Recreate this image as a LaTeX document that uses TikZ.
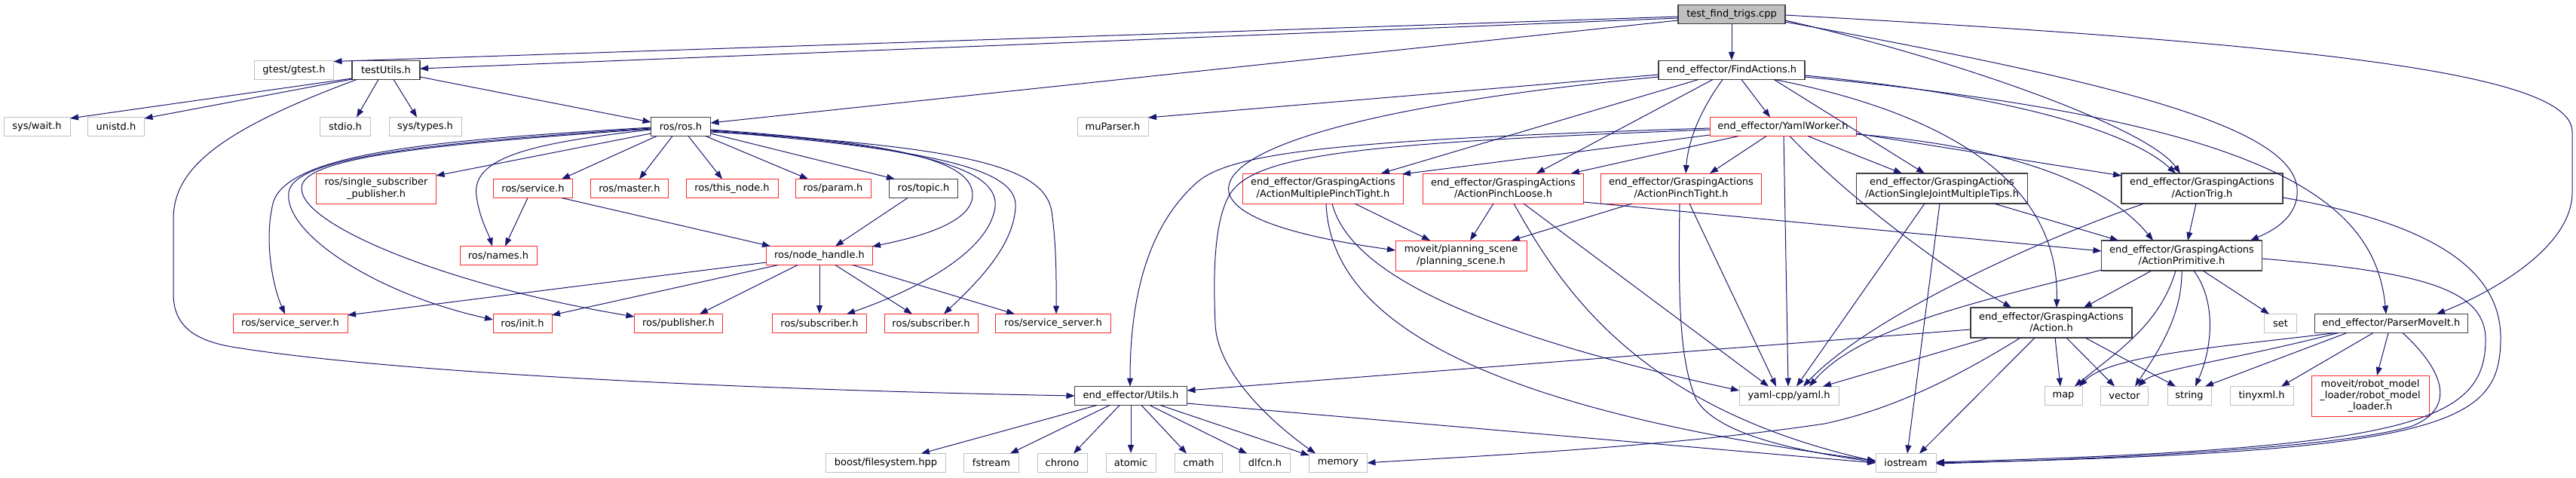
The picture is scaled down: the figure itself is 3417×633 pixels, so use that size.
\documentclass[tikz,border=0pt]{standalone}
\usepackage{fontspec}
\setmainfont{DejaVu Sans}
\usetikzlibrary{arrows.meta,calc}
\definecolor{edgec}{RGB}{25,25,112}
\definecolor{grayb}{RGB}{191,191,191}
\definecolor{blkb}{RGB}{64,64,64}
\definecolor{redb}{RGB}{255,40,40}
\newcommand\nfont{\fontsize{13}{15.3}\selectfont}
\tikzset{
  nb/.style={rectangle, align=center, inner sep=0pt, font=\nfont, text=black, minimum height=25pt},
  blk/.style={nb, draw=blkb, line width=1.3pt},
  rdn/.style={nb, draw=redb, line width=1pt},
  gry/.style={nb, draw=grayb, line width=1pt},
  rootn/.style={blk, fill=grayb},
  two/.style={minimum height=40pt},
  dep/.style={draw=edgec, line width=1pt, -{Triangle[length=11pt,width=8pt]}},
}
\begin{document}
\begin{tikzpicture}[x=1pt,y=-1pt]
\useasboundingbox (0,0) rectangle (3417,633);
\fill[white] (0,0) rectangle (3417,633);
% row 1
\node[rootn, minimum width=142pt] (T) at (2297,19) {test\_find\_trigs.cpp};
% row 2
\node[gry, minimum width=105pt] (gtest) at (390,93) {gtest/gtest.h};
\node[blk, minimum width=90pt] (TU) at (512,93) {testUtils.h};
\node[blk, minimum width=194pt] (F) at (2297,93) {end\_effector/FindActions.h};
% row 3
\node[gry, minimum width=88pt] (wait) at (49,168) {sys/wait.h};
\node[gry, minimum width=75pt] (unistd) at (154,168) {unistd.h};
\node[gry, minimum width=67pt] (stdio) at (458,168) {stdio.h};
\node[gry, minimum width=96pt] (systypes) at (564,168) {sys/types.h};
\node[blk, minimum width=79pt] (R) at (903,168) {ros/ros.h};
\node[gry, minimum width=94pt] (muParser) at (1476,168) {muParser.h};
\node[rdn, minimum width=194pt] (YW) at (2365,168) {end\_effector/YamlWorker.h};
% row 4
\node[rdn, two, minimum width=159pt] (SSP) at (499,250) {ros/single\_subscriber\\\_publisher.h};
\node[rdn, minimum width=105pt] (service) at (707,250) {ros/service.h};
\node[rdn, minimum width=103pt] (master) at (835,250) {ros/master.h};
\node[rdn, minimum width=122pt] (thisnode) at (971,250) {ros/this\_node.h};
\node[rdn, minimum width=100pt] (param) at (1105,250) {ros/param.h};
\node[blk, minimum width=91pt] (topic) at (1225,250) {ros/topic.h};
\node[rdn, two, minimum width=213pt] (MPT) at (1755,250) {end\_effector/GraspingActions\\/ActionMultiplePinchTight.h};
\node[rdn, two, minimum width=213pt] (PL) at (1994,250) {end\_effector/GraspingActions\\/ActionPinchLoose.h};
\node[rdn, two, minimum width=213pt] (PT) at (2230,250) {end\_effector/GraspingActions\\/ActionPinchTight.h};
\node[blk, two, minimum width=227pt] (SJ) at (2576,250) {end\_effector/GraspingActions\\/ActionSingleJointMultipleTips.h};
\node[blk, two, minimum width=214pt] (AT) at (2921,250) {end\_effector/GraspingActions\\/ActionTrig.h};
% row 5
\node[rdn, minimum width=102pt] (names) at (661,339) {ros/names.h};
\node[rdn, minimum width=141pt] (NH) at (1087,339) {ros/node\_handle.h};
\node[rdn, two, minimum width=174pt] (PS) at (1938,339) {moveit/planning\_scene\\/planning\_scene.h};
\node[blk, two, minimum width=213pt] (AP) at (2894,339) {end\_effector/GraspingActions\\/ActionPrimitive.h};
% row 6
\node[rdn, minimum width=152pt] (SS1) at (385,429) {ros/service\_server.h};
\node[rdn, minimum width=78pt] (init) at (693,429) {ros/init.h};
\node[rdn, minimum width=117pt] (pub) at (900,429) {ros/publisher.h};
\node[rdn, minimum width=125pt] (sub1) at (1087,429) {ros/subscriber.h};
\node[rdn, minimum width=124pt] (sub2) at (1235,429) {ros/subscriber.h};
\node[rdn, minimum width=153pt] (SS2) at (1397,429) {ros/service\_server.h};
\node[blk, two, minimum width=214pt] (AH) at (2721,428) {end\_effector/GraspingActions\\/Action.h};
\node[gry, minimum width=43pt] (set) at (3025,429) {set};
\node[blk, minimum width=203pt] (PM) at (3172,429) {end\_effector/ParserMoveIt.h};
% row 7
\node[blk, minimum width=149pt] (Utils) at (1500,525) {end\_effector/Utils.h};
\node[gry, minimum width=132pt] (yaml) at (2373,525) {yaml-cpp/yaml.h};
\node[gry, minimum width=50pt] (map) at (2737,525) {map};
\node[gry, minimum width=63pt] (vector) at (2818,525) {vector};
\node[gry, minimum width=58pt] (string) at (2904,525) {string};
\node[gry, minimum width=84pt] (tinyxml) at (3000,525) {tinyxml.h};
\node[rdn, minimum height=54pt, minimum width=156pt] (RML) at (3144,525) {moveit/robot\_model\\\_loader/robot\_model\\\_loader.h};
% row 8
\node[gry, minimum width=159pt] (boost) at (1175,614) {boost/filesystem.hpp};
\node[gry, minimum width=73pt] (fstream) at (1315,614) {fstream};
\node[gry, minimum width=66pt] (chrono) at (1409,614) {chrono};
\node[gry, minimum width=66pt] (atomic) at (1500,614) {atomic};
\node[gry, minimum width=63pt] (cmath) at (1590,614) {cmath};
\node[gry, minimum width=67pt] (dlfcn) at (1678,614) {dlfcn.h};
\node[gry, minimum width=77pt] (memory) at (1775,614) {memory};
\node[gry, minimum width=80pt] (iostream) at (2528,614) {iostream};

% ---- edges from T
\draw[dep] ([shift={(-71,3)}]T.center) -- ([shift={(52.5,-11.5)}]gtest.center);
\draw[dep] ([shift={(-71,5)}]T.center) -- ([shift={(45,-2)}]TU.center);
\draw[dep] ([shift={(-71,8)}]T.center) -- ([shift={(39.5,-5)}]R.center);
\draw[dep] (T.south) -- (F.north);
\draw[dep] ([shift={(71,8)}]T.center) .. controls (2600,80) and (2850,170) .. ([shift={(-29,-20)}]AT.center);
\draw[dep] ([shift={(71,10)}]T.center) .. controls (2750,100) and (3040,160) .. (3047,250) .. controls (3050,290) and (3010,308) .. ([shift={(91,-20)}]AP.center);
\draw[dep] ([shift={(71,1)}]T.center) .. controls (3100,60) and (3412,100) .. (3412,175) -- (3412,255) .. controls (3412,330) and (3300,390) .. ([shift={(60,-12.5)}]PM.center);
% ---- edges from F
\draw[dep] ([shift={(-97,6)}]F.center) -- ([shift={(47,-12)}]muParser.center);
\draw[dep] ([shift={(-97,9)}]F.center) .. controls (1800,140) and (1620,200) .. (1630,255) .. controls (1640,300) and (1780,322) .. ([shift={(-87,-7)}]PS.center);
\draw[dep] ([shift={(13,12.5)}]F.center) -- ([shift={(-17,-12.5)}]YW.center);
\draw[dep] ([shift={(-44,12.5)}]F.center) -- ([shift={(77,-20)}]MPT.center);
\draw[dep] ([shift={(-25,12.5)}]F.center) -- ([shift={(44,-20)}]PL.center);
\draw[dep] ([shift={(-12,12.5)}]F.center) .. controls (2260,140) and (2240,180) .. ([shift={(6,-20)}]PT.center);
\draw[dep] ([shift={(56,12.5)}]F.center) -- ([shift={(-23,-20)}]SJ.center);
\draw[dep] ([shift={(57,12.5)}]F.center) .. controls (2580,150) and (2732,240) .. ([shift={(7,-20)}]AH.center);
\draw[dep] ([shift={(97,7)}]F.center) .. controls (2650,125) and (2820,170) .. ([shift={(-35,-20)}]AT.center);
\draw[dep] ([shift={(97,9)}]F.center) .. controls (3000,160) and (3150,260) .. ([shift={(-7,-12.5)}]PM.center);
% ---- edges from YW
\draw[dep] ([shift={(-97,2)}]YW.center) .. controls (1800,185) and (1640,200) .. (1590,240) .. controls (1520,300) and (1499,400) .. ([shift={(-1,-12.5)}]Utils.center);
\draw[dep] ([shift={(-97,4)}]YW.center) .. controls (1800,190) and (1660,205) .. (1630,260) .. controls (1608,300) and (1610,380) .. (1612,430) .. controls (1615,500) and (1700,570) .. ([shift={(-30,-12.5)}]memory.center);
\draw[dep] ([shift={(-97,11)}]YW.center) -- ([shift={(105,-19)}]MPT.center);
\draw[dep] ([shift={(-59,12.5)}]YW.center) -- ([shift={(90,-20)}]PL.center);
\draw[dep] ([shift={(-22,12.5)}]YW.center) -- ([shift={(38,-20)}]PT.center);
\draw[dep] ([shift={(1,12.5)}]YW.center) -- ([shift={(-1,-12.5)}]yaml.center);
\draw[dep] ([shift={(9,12.5)}]YW.center) .. controls (2440,250) and (2560,345) .. ([shift={(-53,-20)}]AH.center);
\draw[dep] ([shift={(33,12.5)}]YW.center) -- ([shift={(-53,-20)}]SJ.center);
\draw[dep] ([shift={(97,9)}]YW.center) -- ([shift={(-107,-17)}]AT.center);
\draw[dep] ([shift={(97,10)}]YW.center) .. controls (2680,195) and (2800,250) .. ([shift={(-38,-20)}]AP.center);
% ---- edges from MPT, PL, PT
\draw[dep] ([shift={(42,20)}]MPT.center) -- ([shift={(-41,-20)}]PS.center);
\draw[dep] ([shift={(12,20)}]MPT.center) .. controls (1790,360) and (1950,440) .. ([shift={(-66,-7)}]yaml.center);
\draw[dep] ([shift={(4,20)}]MPT.center) .. controls (1765,420) and (1950,540) .. ([shift={(-40,-3)}]iostream.center);
\draw[dep] ([shift={(-13,20)}]PL.center) -- ([shift={(12,-20)}]PS.center);
\draw[dep] ([shift={(106.5,18)}]PL.center) -- ([shift={(-106.5,-6)}]AP.center);
\draw[dep] ([shift={(14,20)}]PL.center) .. controls (2070,380) and (2170,540) .. ([shift={(-40,-2)}]iostream.center);
\draw[dep] ([shift={(27,20)}]PL.center) -- ([shift={(-27,-12.5)}]yaml.center);
\draw[dep] ([shift={(-65,20)}]PT.center) -- ([shift={(67,-20)}]PS.center);
\draw[dep] ([shift={(11,20)}]PT.center) -- ([shift={(-17,-12.5)}]yaml.center);
\draw[dep] ([shift={(-2,20)}]PT.center) .. controls (2226,400) and (2228,480) .. (2250,530) .. controls (2280,580) and (2400,600) .. ([shift={(-40,-1)}]iostream.center);
% ---- SJ, AT
\draw[dep] ([shift={(-23,20)}]SJ.center) -- ([shift={(10,-12.5)}]yaml.center);
\draw[dep] ([shift={(-3,20)}]SJ.center) -- ([shift={(2,-12.5)}]iostream.center);
\draw[dep] ([shift={(69,20)}]SJ.center) -- ([shift={(-84,-20)}]AP.center);
\draw[dep] ([shift={(-8,20)}]AT.center) -- ([shift={(8,-20)}]AP.center);
\draw[dep] ([shift={(-77,20)}]AT.center) .. controls (2700,320) and (2480,420) .. ([shift={(19,-12.5)}]yaml.center);
\draw[dep] ([shift={(107,12)}]AT.center) .. controls (3250,300) and (3318,370) .. (3317,450) .. controls (3316,560) and (3250,600) .. ([shift={(40,0)}]iostream.center);
% ---- AP
\draw[dep] ([shift={(-40,20)}]AP.center) -- ([shift={(43,-20)}]AH.center);
\draw[dep] ([shift={(-106.5,19)}]AP.center) .. controls (2650,395) and (2470,430) .. ([shift={(27,-12.5)}]yaml.center);
\draw[dep] ([shift={(-8,20)}]AP.center) .. controls (2865,430) and (2810,465) .. ([shift={(15,-12.5)}]map.center);
\draw[dep] ([shift={(0,20)}]AP.center) .. controls (2895,420) and (2860,470) .. ([shift={(14,-12.5)}]vector.center);
\draw[dep] ([shift={(28,20)}]AP.center) -- ([shift={(-15,-12.5)}]set.center);
\draw[dep] ([shift={(16,20)}]AP.center) .. controls (2940,400) and (2935,460) .. ([shift={(8,-12.5)}]string.center);
\draw[dep] ([shift={(106.5,4)}]AP.center) .. controls (3200,360) and (3297,380) .. (3297,450) .. controls (3297,560) and (3200,595) .. ([shift={(40,-1)}]iostream.center);
% ---- AH
\draw[dep] ([shift={(-107,9)}]AH.center) -- ([shift={(74.5,-7)}]Utils.center);
\draw[dep] ([shift={(-83,20)}]AH.center) -- ([shift={(45,-12.5)}]yaml.center);
\draw[dep] ([shift={(-41,20)}]AH.center) .. controls (2580,510) and (2500,545) .. (2420,562) .. controls (2200,595) and (1900,608) .. ([shift={(38.5,0)}]memory.center);
\draw[dep] ([shift={(-22,20)}]AH.center) -- ([shift={(18,-12.5)}]iostream.center);
\draw[dep] ([shift={(5,20)}]AH.center) -- ([shift={(-4,-12.5)}]map.center);
\draw[dep] ([shift={(20,20)}]AH.center) -- ([shift={(-13,-12.5)}]vector.center);
\draw[dep] ([shift={(45,20)}]AH.center) -- ([shift={(-18,-12.5)}]string.center);
% ---- PM
\draw[dep] ([shift={(-74,12.5)}]PM.center) .. controls (2950,460) and (2800,470) .. ([shift={(21,-12.5)}]map.center);
\draw[dep] ([shift={(-70,12.5)}]PM.center) .. controls (2950,480) and (2860,490) .. ([shift={(18,-12.5)}]vector.center);
\draw[dep] ([shift={(-59,12.5)}]PM.center) -- ([shift={(21,-12.5)}]string.center);
\draw[dep] ([shift={(-24,12.5)}]PM.center) -- ([shift={(26,-12.5)}]tinyxml.center);
\draw[dep] ([shift={(-4,12.5)}]PM.center) -- ([shift={(9,-27)}]RML.center);
\draw[dep] ([shift={(15,12.5)}]PM.center) .. controls (3240,490) and (3260,540) .. (3200,565) .. controls (3100,595) and (2800,608) .. ([shift={(40,1)}]iostream.center);
% ---- Utils
\draw[dep] ([shift={(-45,12.5)}]Utils.center) -- ([shift={(47,-12.5)}]boost.center);
\draw[dep] ([shift={(-28,12.5)}]Utils.center) -- ([shift={(25,-12.5)}]fstream.center);
\draw[dep] ([shift={(-15,12.5)}]Utils.center) -- ([shift={(15,-12.5)}]chrono.center);
\draw[dep] (Utils.south) -- (atomic.north);
\draw[dep] ([shift={(14,12.5)}]Utils.center) -- ([shift={(-16,-12.5)}]cmath.center);
\draw[dep] ([shift={(25,12.5)}]Utils.center) -- ([shift={(-24,-12.5)}]dlfcn.center);
\draw[dep] ([shift={(39,12.5)}]Utils.center) -- ([shift={(-38.5,-10)}]memory.center);
\draw[dep] ([shift={(74.5,10)}]Utils.center) -- ([shift={(-40,0)}]iostream.center);
% ---- TU
\draw[dep] ([shift={(-45,11)}]TU.center) -- ([shift={(44,-11)}]wait.center);
\draw[dep] ([shift={(-45,12)}]TU.center) -- ([shift={(37.5,-11)}]unistd.center);
\draw[dep] ([shift={(-39,12.5)}]TU.center) .. controls (300,170) and (230,220) .. (230,290) -- (230,390) .. controls (230,440) and (270,455) .. (320,462) .. controls (500,490) and (900,515) .. ([shift={(-74.5,0)}]Utils.center);
\draw[dep] ([shift={(-10,12.5)}]TU.center) -- ([shift={(15,-12.5)}]stdio.center);
\draw[dep] ([shift={(10,12.5)}]TU.center) -- ([shift={(-11,-12.5)}]systypes.center);
\draw[dep] ([shift={(45,9)}]TU.center) -- ([shift={(-39.5,-6)}]R.center);
% ---- R
\draw[dep] ([shift={(-32,12.5)}]R.center) -- ([shift={(38,-12.5)}]service.center);
\draw[dep] ([shift={(-11,12.5)}]R.center) -- ([shift={(13,-12.5)}]master.center);
\draw[dep] ([shift={(10,12.5)}]R.center) -- ([shift={(-13,-12.5)}]thisnode.center);
\draw[dep] ([shift={(33,12.5)}]R.center) -- ([shift={(-33,-12.5)}]param.center);
\draw[dep] ([shift={(39.5,9)}]R.center) -- ([shift={(-38,-12.5)}]topic.center);
\draw[dep] ([shift={(-39.5,4)}]R.center) .. controls (700,190) and (625,210) .. (632,260) .. controls (636,290) and (648,310) .. ([shift={(-8,-12.5)}]names.center);
\draw[dep] ([shift={(-39.5,9)}]R.center) -- ([shift={(79.5,-17)}]SSP.center);
\draw[dep] ([shift={(-39.5,1)}]R.center) .. controls (600,185) and (380,200) .. (362,270) .. controls (350,320) and (362,380) .. ([shift={(-7,-12.5)}]SS1.center);
\draw[dep] ([shift={(-39.5,2)}]R.center) .. controls (600,188) and (390,205) .. (383,255) .. controls (376,310) and (500,390) .. ([shift={(-39,-5)}]init.center);
\draw[dep] ([shift={(-39.5,3)}]R.center) .. controls (600,190) and (398,206) .. (400,250) .. controls (400,300) and (600,380) .. ([shift={(-58.5,-9)}]pub.center);
\draw[dep] ([shift={(39.5,4)}]R.center) .. controls (1200,190) and (1292,215) .. (1290,260) .. controls (1288,300) and (1200,318) .. ([shift={(70,-12)}]NH.center);
\draw[dep] ([shift={(39.5,5)}]R.center) .. controls (1250,195) and (1325,230) .. (1320,275) .. controls (1310,340) and (1200,390) .. ([shift={(36,-12.5)}]sub1.center);
\draw[dep] ([shift={(39.5,6)}]R.center) .. controls (1270,200) and (1350,230) .. (1347,275) .. controls (1344,330) and (1290,380) .. ([shift={(17,-12.5)}]sub2.center);
\draw[dep] ([shift={(39.5,7)}]R.center) .. controls (1300,195) and (1385,225) .. (1395,280) .. controls (1402,330) and (1401,380) .. ([shift={(4,-12.5)}]SS2.center);
% ---- service, topic, NH
\draw[dep] ([shift={(-7,12.5)}]service.center) -- ([shift={(9,-12.5)}]names.center);
\draw[dep] ([shift={(38,12.5)}]service.center) -- ([shift={(-65,-12.5)}]NH.center);
\draw[dep] ([shift={(-21,12.5)}]topic.center) -- ([shift={(21,-12.5)}]NH.center);
\draw[dep] ([shift={(-70.5,9)}]NH.center) -- ([shift={(76,-11)}]SS1.center);
\draw[dep] ([shift={(-55,12.5)}]NH.center) -- ([shift={(39,-11)}]init.center);
\draw[dep] ([shift={(-29,12.5)}]NH.center) -- ([shift={(28,-12.5)}]pub.center);
\draw[dep] (NH.south) -- (sub1.north);
\draw[dep] ([shift={(21,12.5)}]NH.center) -- ([shift={(-25,-12.5)}]sub2.center);
\draw[dep] ([shift={(44,12.5)}]NH.center) -- ([shift={(-51,-12.5)}]SS2.center);
\end{tikzpicture}
\end{document}
